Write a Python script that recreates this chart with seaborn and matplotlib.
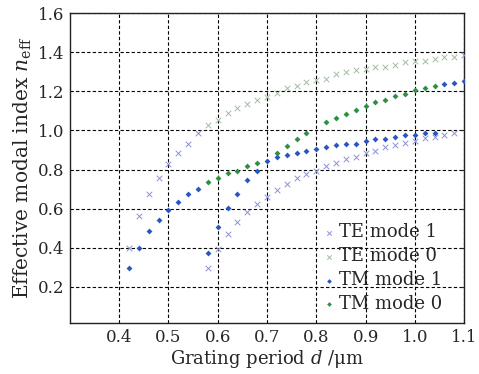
import numpy as np
import pandas as pd
import matplotlib
matplotlib.use("Agg")
import matplotlib.pyplot as plt
import seaborn as sns

# grating period (um) and effective index
te1_d = [0.42, 0.44, 0.46, 0.48, 0.50, 0.52, 0.54, 0.56,
         0.58, 0.60, 0.62, 0.64, 0.66, 0.68, 0.70, 0.72, 0.74, 0.76, 0.78, 0.80,
         0.82, 0.84, 0.86, 0.88, 0.90, 0.92, 0.94, 0.96, 0.98, 1.00, 1.02, 1.04,
         1.06, 1.08, 1.10]
te1_n = [0.400, 0.565, 0.674, 0.756, 0.828, 0.885, 0.933, 0.985,
         0.296, 0.392, 0.473, 0.533, 0.584, 0.625, 0.660, 0.695, 0.724, 0.758, 0.776, 0.791,
         0.817, 0.836, 0.853, 0.865, 0.887, 0.897, 0.915, 0.925, 0.936, 0.947, 0.959, 0.968,
         0.977, 0.986, 1.385]

te0_d = [0.58, 0.60, 0.62, 0.64, 0.66, 0.68, 0.70, 0.72, 0.74, 0.76, 0.78, 0.80,
         0.82, 0.84, 0.86, 0.88, 0.90, 0.92, 0.94, 0.96, 0.98, 1.00, 1.02, 1.04,
         1.06, 1.08]
te0_n = [1.026, 1.056, 1.087, 1.114, 1.133, 1.155, 1.172, 1.193, 1.217, 1.227, 1.246, 1.256,
         1.262, 1.288, 1.297, 1.307, 1.315, 1.322, 1.324, 1.334, 1.349, 1.356, 1.356, 1.366,
         1.373, 1.373]

tm1_d = [0.42, 0.44, 0.46, 0.48, 0.50, 0.52, 0.54, 0.56,
         0.58, 0.60, 0.62, 0.64, 0.66, 0.68, 0.70, 0.72, 0.74, 0.76, 0.78, 0.80,
         0.82, 0.84, 0.86, 0.88, 0.90, 0.92, 0.94, 0.96, 0.98, 1.00, 1.02, 1.04,
         1.06, 1.08, 1.10]
tm1_n = [0.296, 0.400, 0.486, 0.541, 0.592, 0.635, 0.673, 0.703,
         0.374, 0.505, 0.603, 0.673, 0.747, 0.793, 0.845, 0.863, 0.874, 0.885, 0.896, 0.906,
         0.915, 0.925, 0.933, 0.933, 0.947, 0.957, 0.957, 0.967, 0.976, 0.976, 0.986, 0.986,
         1.235, 1.245, 1.254]

tm0_d = [0.58, 0.60, 0.62, 0.64, 0.66, 0.68, 0.72, 0.74, 0.76, 0.78,
         0.82, 0.84, 0.86, 0.88, 0.90, 0.92, 0.94, 0.96, 0.98, 1.00, 1.02, 1.04]
tm0_n = [0.734, 0.755, 0.785, 0.793, 0.816, 0.836, 0.886, 0.923, 0.955, 0.986,
         1.044, 1.063, 1.085, 1.105, 1.124, 1.146, 1.157, 1.174, 1.184, 1.205, 1.216, 1.227]

x_ticks = [0.4, 0.5, 0.6, 0.7, 0.8, 0.9, 1.0, 1.1]
y_ticks = [0.2, 0.4, 0.6, 0.8, 1.0, 1.2, 1.4, 1.6]

sns.set_style("white")
plt.rcParams["font.family"] = ["DejaVu Serif"]
plt.rcParams["mathtext.fontset"] = "dejavuserif"

fig = plt.figure(figsize=(4.79, 3.74), dpi=100)
ax = fig.add_axes([0.146, 0.136, 0.823, 0.829])

series = [
    ("TE mode 1", te1_d, te1_n, "x", "#8c92d8", 16, 0.7),
    ("TE mode 0", te0_d, te0_n, "x", "#a3bda3", 16, 0.7),
    ("TM mode 1", tm1_d, tm1_n, "D", "#2a55c2", 9, 0.0),
    ("TM mode 0", tm0_d, tm0_n, "D", "#2f8f45", 9, 0.0),
]
for label, d, n, mk, col, sz, lw in series:
    df = pd.DataFrame({"d": d, "n": n})
    sns.scatterplot(data=df, x="d", y="n", ax=ax, marker=mk, color=col, s=sz,
                    linewidth=lw if mk == "x" else 0, edgecolor=None if mk == "x" else col,
                    label=label, zorder=3)

ax.set_xlim(0.3, 1.1)
ax.set_ylim(0.015, 1.6)
ax.set_xticks(x_ticks)
ax.set_yticks(y_ticks)
ax.set_xticklabels([f"{v:.1f}" for v in x_ticks], fontsize=12)
ax.set_yticklabels([f"{v:.1f}" for v in y_ticks], fontsize=12)
ax.grid(True, color="black", linestyle=(0, (3, 2)), linewidth=0.8)
ax.tick_params(direction="in", length=3, top=False, right=True, width=0.8, pad=4)
for s in ax.spines.values():
    s.set_color("#222222")
    s.set_linewidth(1.0)

ax.set_xlabel(r"Grating period $d$ /μm", fontsize=13, labelpad=2)
ax.set_ylabel(r"Effective modal index $n_{\rm eff}$", fontsize=14.5, labelpad=3)

leg = ax.legend(loc="lower right", bbox_to_anchor=(0.97, 0.0), frameon=False,
                fontsize=13, handlelength=0.5, handletextpad=0.3, labelspacing=0.33,
                borderaxespad=0.15, markerscale=0.8)

fig.savefig("out.png", dpi=100)
